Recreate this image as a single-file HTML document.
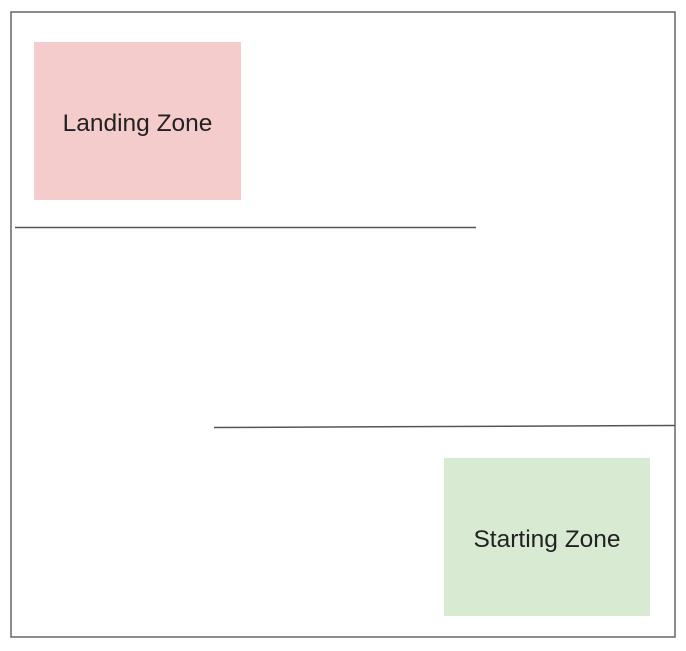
<!DOCTYPE html>
<html><head><style>
body{margin:0;width:686px;height:646px;background:#fff;overflow:hidden}
</style></head><body>
<svg width="686" height="646" xmlns="http://www.w3.org/2000/svg">
<rect x="11" y="12" width="664" height="625" fill="#fff" stroke="#666" stroke-width="1.5"/>
<rect x="34" y="42" width="207" height="158" fill="#f4cccc"/>
<text x="137.5" y="131" font-family="Liberation Sans, sans-serif" font-size="24.5" fill="#222" text-anchor="middle">Landing Zone</text>
<rect x="444" y="458" width="206" height="158" fill="#d9ead3"/>
<text x="547" y="547" font-family="Liberation Sans, sans-serif" font-size="24.5" fill="#222" text-anchor="middle">Starting Zone</text>
<line x1="15" y1="227.5" x2="476" y2="227.5" stroke="#555" stroke-width="1.5"/>
<line x1="214" y1="427.5" x2="675" y2="425.5" stroke="#555" stroke-width="1.5"/>
</svg>
</body></html>
